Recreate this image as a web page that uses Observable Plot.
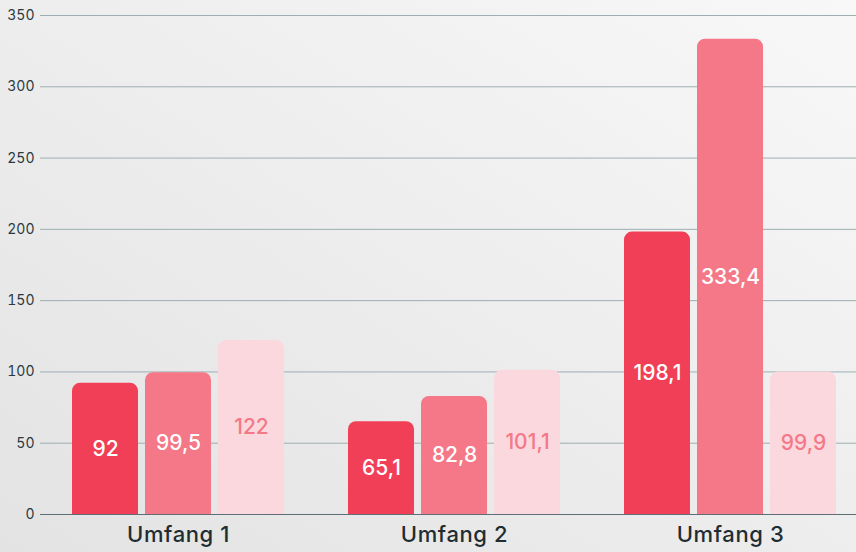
<!DOCTYPE html>
<html>
<head>
<meta charset="utf-8">
<script src="https://cdn.jsdelivr.net/npm/d3@7"></script>
<script src="https://cdn.jsdelivr.net/npm/@observablehq/plot@0.6"></script>
<style>
  html, body { margin: 0; padding: 0; }
  body {
    width: 856px; height: 552px; overflow: hidden;
    background: linear-gradient(to top right, #e3e3e3 0%, #ececec 45%, #f8f8f8 100%);
    font-family: Inter, "Noto Sans", sans-serif;
  }
  .xax text { letter-spacing: 0.6px; }
</style>
</head>
<body>
<div id="chart"></div>
<script>
const groups = ["Umfang 1", "Umfang 2", "Umfang 3"];
const series = ["A", "B", "C"];
const valuesA = [92, 65.1, 198.1];
const valuesB = [99.5, 82.8, 333.4];
const valuesC = [122, 101.1, 99.9];
const yTicks = [0, 50, 100, 150, 200, 250, 300, 350];

const colors = {A: "#f03f56", B: "#f47887", C: "#fbd8de"};
const labelColors = {A: "#ffffff", B: "#ffffff", C: "#f47887"};
const insets = {A: [0, 146], B: [73, 73], C: [146, 0]};
const offsets = {A: -73, B: 0, C: 73};

const data = [];
const lists = {A: valuesA, B: valuesB, C: valuesC};
for (const s of series) groups.forEach((g, i) => data.push({group: g, series: s, value: lists[s][i]}));

const fmt = v => String(v).replace(".", ",");

const marks = [
  Plot.gridY(yTicks, {stroke: "#9eaeb1", strokeOpacity: 1, strokeWidth: 1}),
  Plot.axisY(yTicks, {tickSize: 0, tickPadding: 6, fontSize: 14, fill: "#2b3a42", tickFormat: d => d}),
  Plot.axisX({tickSize: 0, tickPadding: 12, fontSize: 22, fill: "#1f2d33", fontWeight: 500, className: "xax"})
];
for (const s of series) {
  const d = data.filter(r => r.series === s);
  marks.push(Plot.barY(d, {x: "group", y: "value", fill: colors[s], rx: 8, insetLeft: insets[s][0], insetRight: insets[s][1]}));
  marks.push(Plot.barY(d, {x: "group", y1: 0, y2: r => r.value / 2, fill: colors[s], insetLeft: insets[s][0], insetRight: insets[s][1]}));
  marks.push(Plot.text(d, {x: "group", y: r => r.value / 2, text: r => fmt(r.value), dx: offsets[s], fill: labelColors[s], fontSize: 21, fontWeight: 500}));
}
marks.push(Plot.ruleY([0], {stroke: "#5f6e75", strokeWidth: 1.2}));

const chart = Plot.plot({
  width: 856,
  height: 552,
  marginLeft: 40,
  marginRight: 0,
  marginTop: 15,
  marginBottom: 38,
  style: {background: "transparent", fontFamily: "Inter, 'Noto Sans', sans-serif", overflow: "visible"},
  x: {domain: groups, range: [72, 836], paddingInner: 0.232, paddingOuter: 0, label: null},
  y: {domain: [0, 350], label: null},
  marks
});
document.getElementById("chart").appendChild(chart);
</script>
</body>
</html>
